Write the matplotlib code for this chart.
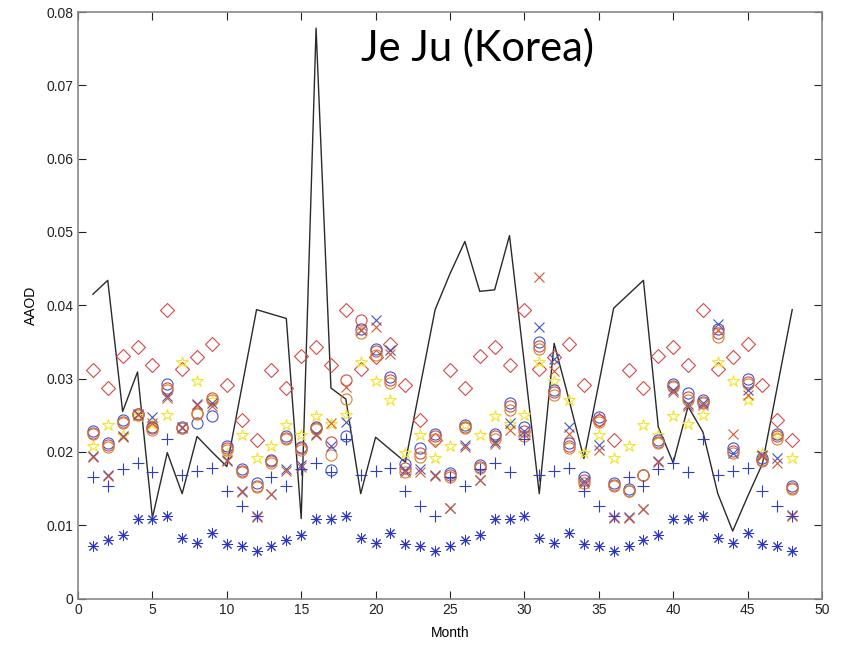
import numpy as np
import matplotlib.pyplot as plt

months = list(range(1, 49))

# observed AAOD (black line)
obs = [0.0415, 0.0434, 0.0255, 0.0309, 0.0110, 0.0199, 0.0143, 0.0221, 0.0200, 0.0180, 0.0287, 0.0394,
       0.0388, 0.0382, 0.0109, 0.0778, 0.0287, 0.0272, 0.0143, 0.0220, 0.0203, 0.0186, 0.0290, 0.0394,
       0.0443, 0.0487, 0.0419, 0.0421, 0.0495, 0.0320, 0.0143, 0.0348, 0.0271, 0.0191, 0.0293, 0.0396,
       0.0415, 0.0434, 0.0234, 0.0185, 0.0262, 0.0227, 0.0143, 0.0092, 0.0139, 0.0184, 0.0289, 0.0394]

diamond_red = [0.0312, 0.0287, 0.0331, 0.0343, 0.0318, 0.0394, 0.0313, 0.0330, 0.0347, 0.0291, 0.0244, 0.0216,
               0.0312, 0.0287, 0.0331, 0.0343, 0.0318, 0.0394, 0.0313, 0.0330, 0.0347, 0.0291, 0.0244, 0.0216,
               0.0312, 0.0287, 0.0331, 0.0343, 0.0318, 0.0394, 0.0313, 0.0330, 0.0347, 0.0291, 0.0244, 0.0216,
               0.0312, 0.0287, 0.0331, 0.0343, 0.0318, 0.0394, 0.0313, 0.0330, 0.0347, 0.0291, 0.0244, 0.0216]

star_yellow = [0.0208, 0.0236, 0.0223, 0.0249, 0.0238, 0.0250, 0.0322, 0.0297, 0.0271, 0.0198, 0.0223, 0.0191,
               0.0208, 0.0236, 0.0223, 0.0249, 0.0238, 0.0250, 0.0322, 0.0297, 0.0271, 0.0198, 0.0223, 0.0191,
               0.0208, 0.0236, 0.0223, 0.0249, 0.0238, 0.0250, 0.0322, 0.0297, 0.0271, 0.0198, 0.0223, 0.0191,
               0.0208, 0.0236, 0.0223, 0.0249, 0.0238, 0.0250, 0.0322, 0.0297, 0.0271, 0.0198, 0.0223, 0.0191]

plus_blue = [0.0166, 0.0153, 0.0177, 0.0185, 0.0173, 0.0217, 0.0169, 0.0174, 0.0178, 0.0146, 0.0126, 0.0112,
             0.0166, 0.0153, 0.0177, 0.0185, 0.0173, 0.0217, 0.0169, 0.0174, 0.0178, 0.0146, 0.0126, 0.0112,
             0.0166, 0.0153, 0.0177, 0.0185, 0.0173, 0.0217, 0.0169, 0.0174, 0.0178, 0.0146, 0.0126, 0.0112,
             0.0166, 0.0153, 0.0177, 0.0185, 0.0173, 0.0217, 0.0169, 0.0174, 0.0178, 0.0146, 0.0126, 0.0112]

aster_blue = [0.0072, 0.0080, 0.0087, 0.0109, 0.0108, 0.0113, 0.0083, 0.0076, 0.0090, 0.0074, 0.0072, 0.0065,
              0.0072, 0.0080, 0.0087, 0.0109, 0.0108, 0.0113, 0.0083, 0.0076, 0.0090, 0.0074, 0.0072, 0.0065,
              0.0072, 0.0080, 0.0087, 0.0109, 0.0108, 0.0113, 0.0083, 0.0076, 0.0090, 0.0074, 0.0072, 0.0065,
              0.0072, 0.0080, 0.0087, 0.0109, 0.0108, 0.0113, 0.0083, 0.0076, 0.0090, 0.0074, 0.0072, 0.0065]

circ_blue = [0.0229, 0.0212, 0.0243, 0.0252, 0.0234, 0.0293, 0.0234, 0.0240, 0.0249, 0.0208, 0.0177, 0.0157,
             0.0189, 0.0222, 0.0207, 0.0234, 0.0175, 0.0221, 0.0368, 0.0341, 0.0302, 0.0184, 0.0205, 0.0224,
             0.0171, 0.0237, 0.0182, 0.0224, 0.0267, 0.0234, 0.0350, 0.0284, 0.0212, 0.0166, 0.0248, 0.0157,
             0.0149, 0.0168, 0.0216, 0.0293, 0.0280, 0.0271, 0.0368, 0.0205, 0.0300, 0.0191, 0.0225, 0.0153]

circ_red = [0.0226, 0.0209, 0.0241, 0.0251, 0.0232, 0.0287, 0.0233, 0.0253, 0.0273, 0.0205, 0.0174, 0.0154,
            0.0187, 0.0219, 0.0205, 0.0232, 0.0213, 0.0298, 0.0380, 0.0337, 0.0298, 0.0178, 0.0199, 0.0221,
            0.0168, 0.0234, 0.0180, 0.0221, 0.0262, 0.0228, 0.0345, 0.0281, 0.0208, 0.0161, 0.0244, 0.0155,
            0.0147, 0.0168, 0.0214, 0.0290, 0.0275, 0.0268, 0.0362, 0.0201, 0.0296, 0.0189, 0.0221, 0.0151]

circ_orange = [0.0224, 0.0207, 0.0239, 0.0250, 0.0230, 0.0284, 0.0232, 0.0251, 0.0271, 0.0202, 0.0172, 0.0152,
               0.0185, 0.0217, 0.0203, 0.0231, 0.0196, 0.0272, 0.0362, 0.0332, 0.0294, 0.0173, 0.0193, 0.0218,
               0.0166, 0.0232, 0.0178, 0.0218, 0.0257, 0.0222, 0.0341, 0.0278, 0.0205, 0.0157, 0.0241, 0.0153,
               0.0146, 0.0168, 0.0212, 0.0288, 0.0271, 0.0266, 0.0357, 0.0198, 0.0293, 0.0187, 0.0218, 0.0149]

x_blue = [0.0194, 0.0168, 0.0221, 0.0252, 0.0248, 0.0276, 0.0234, 0.0265, 0.0266, 0.0189, 0.0147, 0.0112,
          0.0143, 0.0177, 0.0182, 0.0225, 0.0208, 0.0241, 0.0366, 0.0380, 0.0339, 0.0175, 0.0177, 0.0168,
          0.0123, 0.0210, 0.0162, 0.0214, 0.0239, 0.0228, 0.0371, 0.0327, 0.0234, 0.0160, 0.0209, 0.0111,
          0.0111, 0.0122, 0.0187, 0.0285, 0.0265, 0.0266, 0.0375, 0.0198, 0.0284, 0.0196, 0.0191, 0.0114]

x_red = [0.0193, 0.0167, 0.0220, 0.0250, 0.0240, 0.0273, 0.0233, 0.0264, 0.0263, 0.0187, 0.0145, 0.0111,
         0.0142, 0.0174, 0.0180, 0.0223, 0.0240, 0.0288, 0.0366, 0.0371, 0.0334, 0.0172, 0.0173, 0.0167,
         0.0123, 0.0207, 0.0161, 0.0211, 0.0230, 0.0224, 0.0439, 0.0311, 0.0225, 0.0157, 0.0203, 0.0110,
         0.0110, 0.0122, 0.0186, 0.0281, 0.0262, 0.0264, 0.0366, 0.0225, 0.0277, 0.0195, 0.0185, 0.0113]

plt.rcParams['font.family'] = ['Liberation Sans', 'DejaVu Sans']

fig = plt.figure(figsize=(8.46, 6.49), dpi=100)
ax = fig.add_axes([0.0922, 0.0778, 0.8794, 0.9037])

ax.plot(months, obs, '-', color='#2a2a2a', lw=1.0, zorder=1)

mew = 0.8
ax.plot(months, diamond_red, 'D', ms=7, mfc='none', mec='#d44a4a', mew=mew, ls='none')
ax.plot(months, star_yellow, '*', ms=9, mfc='none', mec='#f2e530', mew=mew, ls='none')
ax.plot(months, circ_blue, 'o', ms=8, mfc='none', mec='#3a55d0', mew=mew, ls='none')
ax.plot(months, circ_red, 'o', ms=8, mfc='none', mec='#d24a4a', mew=mew, ls='none')
ax.plot(months, circ_orange, 'o', ms=8, mfc='none', mec='#d9822b', mew=mew, ls='none')
ax.plot(months, x_blue, 'x', ms=7, mec='#3a55c8', mew=mew, ls='none')
ax.plot(months, x_red, 'x', ms=7, mec='#d8582e', mew=mew, ls='none')
ax.plot(months, plus_blue, '+', ms=9, mec='#2f3fc8', mew=mew, ls='none')
ax.plot(months, aster_blue, marker=(8, 2, 0), ms=8, mec='#2a35c8', mew=0.7, ls='none')

ax.set_xlim(0, 50)
ax.set_ylim(0, 0.08)
ax.set_xticks(range(0, 51, 5))
ax.set_yticks(np.arange(0, 0.0801, 0.01))
ax.set_yticklabels(['0', '0.01', '0.02', '0.03', '0.04', '0.05', '0.06', '0.07', '0.08'])
ax.tick_params(direction='in', length=6, width=0.8, top=True, right=True, labelsize=10, colors='#222222')
for sp in ax.spines.values():
    sp.set_color('#888888')
    sp.set_linewidth(1.2)

ax.set_xlabel('Month', fontsize=10, labelpad=6)
ax.set_ylabel('AAOD', fontsize=10, labelpad=6)

fig.text(0.565, 0.926, 'Je Ju (Korea)', fontsize=30, family=['Lato', 'DejaVu Sans'],
         ha='center', va='center')

fig.savefig('out.png', dpi=100)
